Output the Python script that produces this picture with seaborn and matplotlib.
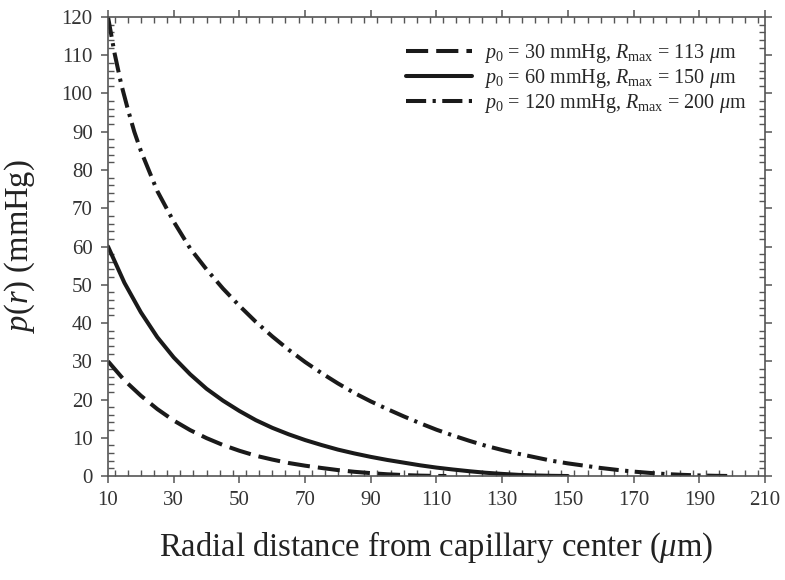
"""Oxygen partial pressure profiles around a capillary."""
import numpy as np
import pandas as pd
import matplotlib
matplotlib.use("Agg")
import matplotlib.pyplot as plt
import seaborn as sns
from matplotlib.ticker import MultipleLocator

# values
r_30 = [10, 15, 20, 25, 30, 35, 40, 45, 50, 55, 60, 65, 70, 75, 80, 85, 90, 95, 100, 105, 110, 113]
p_30 = [30, 25.0, 21.0, 17.5, 14.5, 12.0, 9.9, 8.1, 6.6, 5.3, 4.3, 3.4, 2.7, 2.1, 1.55, 1.1,
        0.75, 0.45, 0.25, 0.1, 0.02, 0]

r_60 = [10, 15, 20, 25, 30, 35, 40, 45, 50, 55, 60, 65, 70, 75, 80, 85, 90, 95, 100, 105, 110,
        115, 120, 125, 130, 135, 140, 145, 150]
p_60 = [60, 50.5, 42.8, 36.3, 31.0, 26.6, 22.8, 19.7, 17.0, 14.6, 12.6, 10.9, 9.4, 8.1, 6.9, 5.9,
        5.0, 4.2, 3.5, 2.8, 2.2, 1.7, 1.25, 0.85, 0.55, 0.3, 0.15, 0.05, 0]

r_120 = [10, 12, 14, 16, 18, 20, 25, 30, 35, 40, 45, 50, 55, 60, 65, 70, 75, 80, 85, 90, 95, 100,
         105, 110, 115, 120, 125, 130, 135, 140, 145, 150, 155, 160, 165, 170, 175, 180, 185, 190,
         195, 200]
p_120 = [120, 110.5, 102.5, 96, 90, 85, 74.5, 66.5, 59.5, 54, 49, 44.5, 40.3, 36.5, 33, 29.8, 26.9,
         24.2, 21.7, 19.5, 17.5, 15.6, 13.8, 12.1, 10.6, 9.2, 7.9, 6.8, 5.8, 4.9, 4.0, 3.3, 2.7,
         2.1, 1.6, 1.15, 0.8, 0.5, 0.3, 0.15, 0.05, 0]

labels = [
    r"$p_0$ = 30 mmHg, $R_{\mathrm{max}}$ = 113 $\mu$m",
    r"$p_0$ = 60 mmHg, $R_{\mathrm{max}}$ = 150 $\mu$m",
    r"$p_0$ = 120 mmHg, $R_{\mathrm{max}}$ = 200 $\mu$m",
]
line_styles = [(0, (5.5, 2.0)), "-", (0, (5.0, 1.6, 0.8, 1.6))]


def main():
    sns.set_theme(style="ticks")
    plt.rcParams["font.family"] = ["Liberation Serif", "DejaVu Serif"]
    plt.rcParams["mathtext.fontset"] = "custom"
    plt.rcParams["mathtext.rm"] = "Liberation Serif"
    plt.rcParams["mathtext.it"] = "Liberation Serif:italic"
    plt.rcParams["mathtext.bf"] = "Liberation Serif:bold"

    fig = plt.figure(figsize=(7.85, 5.8), dpi=100)
    ax = fig.add_axes([0.1376, 0.1793, 0.8369, 0.7914])

    curves = [(r_30, p_30), (r_60, p_60), (r_120, p_120)]
    for (r, p), label, ls in zip(curves, labels, line_styles):
        df = pd.DataFrame({"r": r, "p": p})
        sns.lineplot(data=df, x="r", y="p", ax=ax, color="#1a1a1a", linewidth=2.9,
                     linestyle=ls, label=label, sort=False)

    ax.set_xlim(10, 210)
    ax.set_ylim(0, 120)
    ax.xaxis.set_minor_locator(MultipleLocator(4))
    ax.yaxis.set_major_locator(MultipleLocator(10))
    ax.yaxis.set_minor_locator(MultipleLocator(2))
    ax.set_xticks(np.arange(10, 211, 20))

    for side in ["left", "right", "top", "bottom"]:
        ax.spines[side].set_visible(True)
        ax.spines[side].set_color("#555555")
        ax.spines[side].set_linewidth(1.2)
    ax.tick_params(which="major", direction="out", length=5, width=1.1, color="#555555",
                   labelsize=15, labelcolor="#333333", top=True, right=True, pad=6)
    ax.tick_params(which="minor", direction="in", length=4, width=1.0, color="#555555",
                   top=True, right=True)

    ax.set_xlabel(r"Radial distance from capillary center ($\mu$m)", fontsize=23.5,
                  color="#222222", labelpad=14)
    ax.set_ylabel(r"$p$($r$) (mmHg)", fontsize=23.5, color="#222222")
    ax.yaxis.set_label_coords(-0.108, 0.5)

    ax.legend(loc="upper right", frameon=False, fontsize=14.5, handlelength=3.3,
              handletextpad=0.6, labelspacing=0.1, bbox_to_anchor=(1.0, 0.985))

    fig.savefig("out.png", dpi=100)


if __name__ == "__main__":
    main()
